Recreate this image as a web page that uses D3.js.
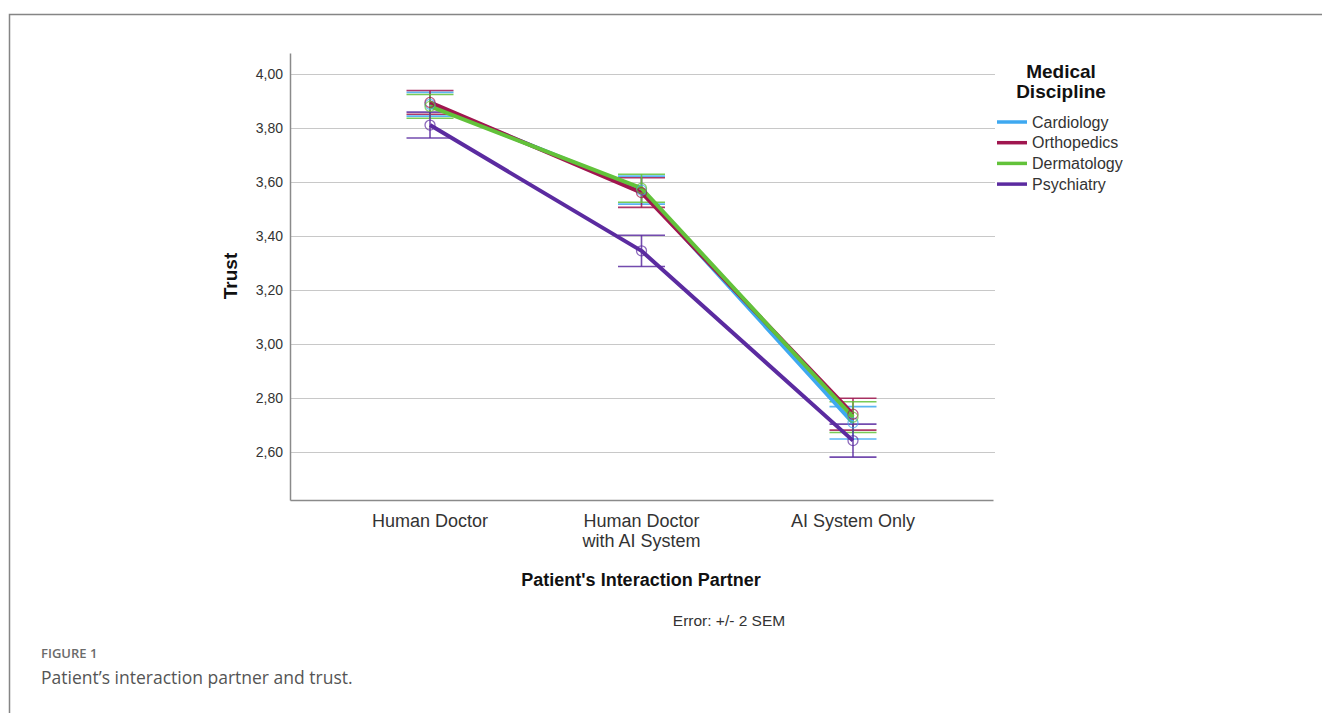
<!DOCTYPE html>
<html>
<head>
<meta charset="utf-8">
<script src="https://cdn.jsdelivr.net/npm/d3@7"></script>
<style>
  body { margin: 0; background: #fff; }
  svg { display: block; }
</style>
</head>
<body>
<svg id="chart" width="1322" height="713"></svg>
<script>
var categories = [["Human Doctor"], ["Human Doctor", "with AI System"], ["AI System Only"]];
var disciplines = ["Cardiology", "Orthopedics", "Dermatology", "Psychiatry"];
var colors = ["#3ea8f0", "#a0164f", "#62c23a", "#5b2ba0"];
// mean trust per discipline, one value per interaction partner
var cardiology = [3.889, 3.571, 2.709];
var orthopedics = [3.896, 3.562, 2.741];
var dermatology = [3.881, 3.578, 2.730];
var psychiatry = [3.812, 3.346, 2.643];
// half width of the error bar (2 SEM)
var errCardiology = [0.044, 0.052, 0.060];
var errOrthopedics = [0.044, 0.055, 0.059];
var errDermatology = [0.044, 0.052, 0.057];
var errPsychiatry = [0.048, 0.058, 0.061];
var yTicks = [2.6, 2.8, 3.0, 3.2, 3.4, 3.6, 3.8, 4.0];

var means = [cardiology, orthopedics, dermatology, psychiatry];
var errs = [errCardiology, errOrthopedics, errDermatology, errPsychiatry];

var svg = d3.select("#chart");
var font = "'Liberation Sans', Arial, sans-serif";

// outer frame
svg.append("path")
  .attr("d", "M 9.5 713 L 9.5 14.5 L 1322 14.5")
  .attr("fill", "none")
  .attr("stroke", "#858585")
  .attr("stroke-width", 1.5);

var x = d3.scalePoint()
  .domain(d3.range(categories.length))
  .range([290, 993])
  .padding(0.662);

var y = d3.scaleLinear()
  .domain([2.423, 4.079])
  .range([500, 53]);

// grid
svg.append("g").selectAll("line")
  .data(yTicks)
  .enter()
  .append("line")
  .attr("x1", 290)
  .attr("x2", 995)
  .attr("y1", function(d){ return Math.round(y(d)) + 0.5; })
  .attr("y2", function(d){ return Math.round(y(d)) + 0.5; })
  .attr("stroke", "#c8c8c8")
  .attr("stroke-width", 1.2);

// y axis
var yAxis = svg.append("g")
  .attr("transform", "translate(290,0)")
  .call(d3.axisLeft(y).tickValues(yTicks).tickSize(0).tickPadding(7)
    .tickFormat(function(d){ return d3.format(".2f")(d).replace(".", ","); }));
yAxis.select(".domain").attr("stroke", "#8a8a8a").attr("stroke-width", 1.5);
yAxis.selectAll("text")
  .attr("font-family", font)
  .attr("font-size", 14)
  .attr("fill", "#333");

// x axis
var xAxis = svg.append("g")
  .attr("transform", "translate(0,500)")
  .call(d3.axisBottom(x).tickSize(0).tickFormat(""));
xAxis.select(".domain").attr("stroke", "#8a8a8a").attr("stroke-width", 1.5);

var catLabels = svg.append("g").selectAll("text")
  .data(categories)
  .enter()
  .append("text")
  .attr("x", function(d, i){ return x(i); })
  .attr("y", 527)
  .attr("text-anchor", "middle")
  .attr("font-family", font)
  .attr("font-size", 18)
  .attr("fill", "#333");
catLabels.selectAll("tspan")
  .data(function(d){ return d; })
  .enter()
  .append("tspan")
  .attr("x", function(){ return d3.select(this.parentNode).attr("x"); })
  .attr("dy", function(d, i){ return i === 0 ? 0 : 20; })
  .text(function(d){ return d; });

// axis titles
svg.append("text")
  .attr("transform", "translate(237,276) rotate(-90)")
  .attr("text-anchor", "middle")
  .attr("font-family", font)
  .attr("font-weight", "bold")
  .attr("font-size", 19)
  .attr("fill", "#111")
  .text("Trust");

svg.append("text")
  .attr("x", 641)
  .attr("y", 586)
  .attr("text-anchor", "middle")
  .attr("font-family", font)
  .attr("font-weight", "bold")
  .attr("font-size", 18)
  .attr("fill", "#111")
  .text("Patient's Interaction Partner");

svg.append("text")
  .attr("x", 729)
  .attr("y", 626)
  .attr("text-anchor", "middle")
  .attr("font-family", font)
  .attr("font-size", 15.5)
  .attr("fill", "#333")
  .text("Error: +/- 2 SEM");

// error bars
var capHalf = 23.5;
disciplines.forEach(function(name, s){
  var g = svg.append("g")
    .attr("stroke", colors[s])
    .attr("stroke-width", 1.6)
    .attr("stroke-opacity", 0.85)
    .attr("fill", "none");
  means[s].forEach(function(m, i){
    var lo = y(m - errs[s][i]);
    var hi = y(m + errs[s][i]);
    var cx = x(i);
    g.append("line").attr("x1", cx).attr("x2", cx).attr("y1", lo).attr("y2", hi);
    g.append("line").attr("x1", cx - capHalf).attr("x2", cx + capHalf).attr("y1", lo).attr("y2", lo);
    g.append("line").attr("x1", cx - capHalf).attr("x2", cx + capHalf).attr("y1", hi).attr("y2", hi);
  });
});

// lines and markers
var line = d3.line()
  .x(function(d, i){ return x(i); })
  .y(function(d){ return y(d); });

disciplines.forEach(function(name, s){
  svg.append("path")
    .attr("d", line(means[s]))
    .attr("fill", "none")
    .attr("stroke", colors[s])
    .attr("stroke-width", 4)
    .attr("stroke-linejoin", "round");
});

disciplines.forEach(function(name, s){
  svg.append("g").selectAll("circle")
    .data(means[s])
    .enter()
    .append("circle")
    .attr("cx", function(d, i){ return x(i); })
    .attr("cy", function(d){ return y(d); })
    .attr("r", 5)
    .attr("fill", "none")
    .attr("stroke", colors[s])
    .attr("stroke-opacity", 0.7)
    .attr("stroke-width", 1.3);
});

// legend
var legend = svg.append("g");
legend.append("text")
  .attr("x", 1061)
  .attr("y", 78)
  .attr("text-anchor", "middle")
  .attr("font-family", font)
  .attr("font-weight", "bold")
  .attr("font-size", 19)
  .attr("fill", "#111")
  .selectAll("tspan")
  .data(["Medical", "Discipline"])
  .enter()
  .append("tspan")
  .attr("x", 1061)
  .attr("dy", function(d, i){ return i === 0 ? 0 : 20; })
  .text(function(d){ return d; });

var item = legend.selectAll(".item")
  .data(disciplines)
  .enter()
  .append("g")
  .attr("class", "item")
  .attr("transform", function(d, i){ return "translate(997," + (122 + i * 20.7) + ")"; });
item.append("line")
  .attr("x1", 0)
  .attr("x2", 30)
  .attr("stroke", function(d, i){ return colors[i]; })
  .attr("stroke-width", 3.5);
item.append("text")
  .attr("x", 35)
  .attr("y", 5.5)
  .attr("font-family", font)
  .attr("font-size", 16)
  .attr("fill", "#333")
  .text(function(d){ return d; });

// caption
svg.append("text")
  .attr("x", 41)
  .attr("y", 658)
  .attr("font-family", "'Open Sans', 'Noto Sans', sans-serif")
  .attr("font-size", 13)
  .attr("font-weight", 600)
  .attr("fill", "#6b6b6b")
  .text("FIGURE 1");
svg.append("text")
  .attr("x", 41)
  .attr("y", 684)
  .attr("font-family", "'Open Sans', 'Noto Sans', sans-serif")
  .attr("font-size", 17.5)
  .attr("fill", "#555")
  .text("Patient\u2019s interaction partner and trust.");
</script>
</body>
</html>
